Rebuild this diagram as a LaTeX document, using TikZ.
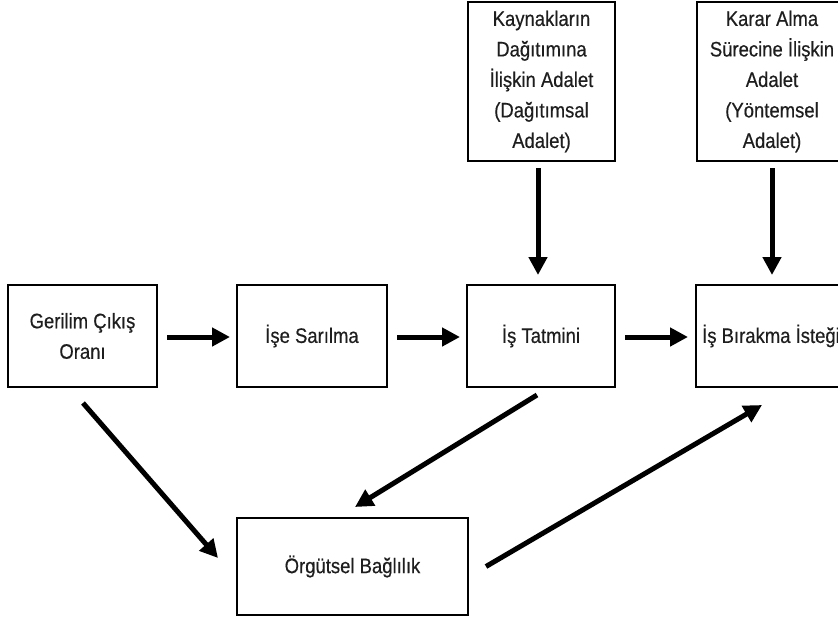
\documentclass[tikz,border=0pt]{standalone}
\usepackage{fontspec}
\setmainfont{Liberation Sans}[FakeStretch=0.88, FakeBold=0.4]
\usetikzlibrary{arrows.meta,calc}
\definecolor{ink}{HTML}{1E1E1E}
\tikzset{
  box/.style={draw=black, line width=2.8pt, rectangle, inner sep=0pt, outer sep=0pt,
    minimum height=102pt, align=center, text=ink,
    font=\fontsize{21}{30.5}\selectfont},
  flow/.style={draw=black, line width=5pt,
    -{Triangle[length=18pt,width=18pt]}}
}
\begin{document}
\begin{tikzpicture}[x=1pt, y=-1pt]
  \path[use as bounding box, clip] (0,0) rectangle (838,621);
  \fill[white] (0,0) rectangle (838,621);

  % main row
  \node[box, minimum width=149pt] (ger) at (82.5,336) {Gerilim Çıkış\\Oranı};
  \node[box, minimum width=150pt] (ise) at (312,336) {İşe Sarılma};
  \node[box, minimum width=148pt] (tat) at (541,336) {İş Tatmini};
  \node[box, minimum width=150pt] (bir) at (771,336) {İş Bırakma İsteği};

  % justice boxes on top
  \node[box, minimum width=147pt, minimum height=159pt] (kay) at (541.5,81.5)
    {Kaynakların\\Dağıtımına\\İlişkin Adalet\\(Dağıtımsal\\Adalet)};
  \node[box, minimum width=150pt, minimum height=159pt] (kar) at (772,81.5)
    {Karar Alma\\Sürecine İlişkin\\Adalet\\(Yöntemsel\\Adalet)};

  % commitment box
  \node[box, minimum width=231pt, minimum height=97pt] (org) at (352.5,566.5)
    {Örgütsel Bağlılık};

  % horizontal links
  \draw[flow] ($(ger.east)+(10,1)$) -- ($(ise.west)+(-7,1)$);
  \draw[flow] ($(ise.east)+(10,1)$) -- ($(tat.west)+(-7,1)$);
  \draw[flow] ($(tat.east)+(10,1)$) -- ($(bir.west)+(-8,1)$);

  % vertical links
  \draw[flow] ($(kay.south)+(-3.5,7)$) -- ($(tat.north)+(-3,-10)$);
  \draw[flow] ($(kar.south)+(0,7)$) -- ($(bir.north)+(1,-10)$);

  % diagonal links
  \draw[flow] ($(ger.south)+(0.5,16)$) -- ($(org.west)+(-19,-8.5)$);
  \draw[flow] ($(tat.south)+(-4,8)$) -- ($(org.north)+(2.5,-11)$);
  \draw[flow] ($(org.east)+(18,0)$) -- ($(bir.south)+(-9,18)$);
\end{tikzpicture}
\end{document}
